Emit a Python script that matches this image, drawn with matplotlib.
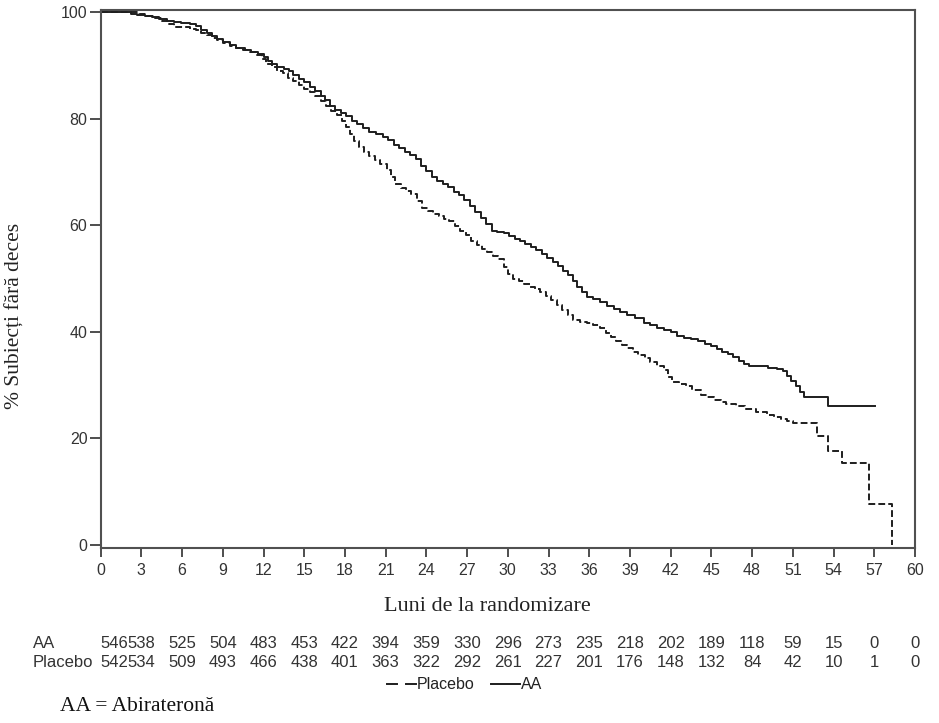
import matplotlib
matplotlib.use("Agg")
import matplotlib.pyplot as plt
from matplotlib.lines import Line2D
from matplotlib.transforms import blended_transform_factory

# curbe Kaplan-Meier (luni, % supravietuire)
aa_t = [0, 2.2, 2.7, 3.3, 3.8, 4.3, 4.9, 5.4, 5.9, 6.6, 7.0, 7.4, 7.8, 8.2, 8.6, 9.0,
        9.5, 10.0, 10.6, 11.1, 11.6, 12.0, 12.3, 12.6, 13.0, 13.5, 13.9, 14.2, 14.6,
        15.0, 15.4, 15.8, 16.2, 16.5, 16.9, 17.3, 17.7, 18.1, 18.5, 18.9, 19.3, 19.8,
        20.3, 20.8, 21.2, 21.6, 22.0, 22.4, 22.8, 23.2, 23.6, 24.0, 24.4, 24.8, 25.2,
        25.6, 26.0, 26.4, 26.8, 27.2, 27.6, 28.0, 28.4, 28.8, 29.2, 29.7, 30.1, 30.5,
        30.9, 31.3, 31.7, 32.1, 32.5, 32.9, 33.3, 33.7, 34.1, 34.4, 34.8, 35.1, 35.5,
        35.8, 36.3, 36.8, 37.3, 37.8, 38.3, 38.8, 39.4, 40.0, 40.5, 41.0, 41.5, 42.0,
        42.5, 43.0, 43.5, 44.0, 44.5, 45.0, 45.4, 45.8, 46.2, 46.6, 47.0, 47.4, 47.8,
        48.5, 49.2, 49.8, 50.3, 50.6, 50.9, 51.2, 51.5, 51.8, 53.6, 57.06]
aa_s = [100, 99.7, 99.5, 99.3, 99.0, 98.7, 98.4, 98.2, 98.0, 97.8, 97.3, 96.6, 96.0, 95.4, 94.9, 94.3,
        93.8, 93.3, 92.9, 92.5, 92.1, 91.5, 90.8, 90.3, 89.7, 89.3, 89.0, 88.2, 87.4,
        86.8, 86.0, 85.2, 84.3, 83.4, 82.4, 81.7, 81.0, 80.4, 79.6, 78.9, 78.2, 77.5,
        77.1, 76.6, 75.9, 75.1, 74.5, 73.8, 73.2, 72.4, 71.2, 70.2, 69.1, 68.3, 67.8,
        67.2, 66.3, 65.6, 64.8, 63.6, 62.4, 61.4, 60.2, 59.0, 58.7, 58.5, 58.0, 57.5,
        57.0, 56.5, 55.9, 55.3, 54.6, 53.9, 53.1, 52.3, 51.5, 50.7, 49.6, 48.4, 47.4,
        46.6, 46.1, 45.6, 44.9, 44.3, 43.7, 43.2, 42.5, 41.7, 41.2, 40.8, 40.3, 39.9,
        39.3, 38.9, 38.6, 38.2, 37.8, 37.3, 36.8, 36.3, 35.8, 35.2, 34.6, 33.9, 33.6,
        33.5, 33.3, 33.0, 32.7, 31.8, 30.8, 29.8, 28.8, 27.8, 26.1, 26.1]

pl_t = [0, 2.8, 3.4, 4.0, 4.5, 5.0, 5.4, 6.6, 7.0, 7.4, 7.8, 8.2, 8.6, 9.0, 9.5, 10.0,
        10.5, 11.0, 11.5, 11.9, 12.2, 12.6, 13.0, 13.4, 13.8, 14.2, 14.6, 15.0, 15.4,
        15.8, 16.2, 16.6, 17.0, 17.4, 17.8, 18.1, 18.4, 18.7, 19.0, 19.4, 19.8, 20.2,
        20.6, 21.1, 21.4, 21.7, 22.1, 22.5, 22.9, 23.3, 23.7, 24.1, 24.5, 24.9, 25.3,
        25.7, 26.1, 26.5, 26.9, 27.3, 27.7, 28.1, 28.5, 28.9, 29.3, 29.7, 30.0, 30.4,
        30.8, 31.2, 31.6, 32.0, 32.4, 32.8, 33.2, 33.6, 34.0, 34.4, 34.8, 35.3, 35.8,
        36.3, 36.8, 37.2, 37.6, 38.0, 38.4, 38.8, 39.2, 39.6, 40.1, 40.5, 41.0, 41.5,
        41.8, 42.1, 42.6, 43.1, 43.6, 44.2, 44.7, 45.2, 45.7, 46.1, 46.8, 47.5, 48.3,
        49.1, 49.6, 50.1, 50.6, 51.0, 52.8, 53.6, 54.6, 56.6, 58.3]
pl_s = [100, 99.6, 99.2, 98.8, 98.4, 97.8, 97.1, 96.9, 96.6, 96.1, 95.6, 95.2, 94.8, 94.2, 93.6, 93.2,
        92.8, 92.4, 91.9, 91.2, 90.3, 89.6, 89.0, 88.5, 87.7, 87.0, 86.3, 85.6, 84.9,
        84.2, 83.3, 82.4, 81.5, 80.6, 79.6, 78.5, 77.2, 75.8, 74.6, 73.8, 73.0, 72.2,
        71.4, 70.4, 69.0, 67.8, 67.0, 66.4, 65.8, 64.6, 63.2, 62.6, 62.1, 61.7, 61.2,
        60.7, 59.9, 59.0, 58.1, 57.1, 56.3, 55.6, 55.0, 54.3, 53.6, 52.2, 50.8, 50.0,
        49.5, 49.0, 48.5, 48.0, 47.4, 46.7, 46.0, 45.0, 44.0, 43.1, 42.2, 41.9, 41.6,
        41.2, 40.7, 39.8, 39.0, 38.2, 37.5, 36.9, 36.3, 35.7, 35.0, 34.4, 33.6, 32.8,
        31.6, 30.6, 30.2, 29.8, 29.0, 28.1, 27.7, 27.3, 26.9, 26.5, 26.0, 25.6, 25.0,
        24.4, 24.0, 23.6, 23.2, 22.9, 20.5, 17.7, 15.3, 7.7, 0]

# numar de subiecti la risc
risc_luni = list(range(0, 61, 3))
risc_aa = [546, 538, 525, 504, 483, 453, 422, 394, 359, 330, 296, 273, 235, 218, 202, 189, 118, 59, 15, 0, 0]
risc_pl = [542, 534, 509, 493, 466, 438, 401, 363, 322, 292, 261, 227, 201, 176, 148, 132, 84, 42, 10, 1, 0]

serif = ["Liberation Serif", "DejaVu Serif"]
sans = ["Liberation Sans", "DejaVu Sans"]
ink = "#1e1e1e"

fig = plt.figure(figsize=(9.39, 7.23), dpi=100)
ax = fig.add_axes([0.1072, 0.2420, 0.8672, 0.7435])

ax.step(pl_t, pl_s, where="post", color=ink, lw=1.4, dashes=(3.5, 1.6))
ax.step(aa_t, aa_s, where="post", color=ink, lw=1.4)

ax.set_xlim(0, 60)
ax.set_ylim(-0.56, 100.28)
ax.set_xticks(range(0, 61, 3))
ax.set_yticks(range(0, 101, 20))
for s in ax.spines.values():
    s.set_color("#505050")
    s.set_linewidth(1.5)
ax.tick_params(axis="x", length=6.5, width=1.3, color="#404040", pad=4,
               labelsize=11.5, labelcolor="#333333")
ax.tick_params(axis="y", length=8, width=1.3, color="#404040", pad=1.5,
               labelsize=11.5, labelcolor="#333333")
for lab in ax.get_xticklabels() + ax.get_yticklabels():
    lab.set_family(sans)

fig.text(0.016, 0.563, "% Subiecți fără deces", rotation=90, ha="center", va="center",
         family=serif, fontsize=15.5, color="#222222")
fig.text(0.519, 0.1618, "Luni de la randomizare", ha="center", va="center",
         family=serif, fontsize=16, color="#222222")

# tabel la risc
tr = blended_transform_factory(ax.transData, fig.transFigure)
for y, lab, vals in [(0.1102, "AA", risc_aa), (0.0840, "Placebo", risc_pl)]:
    fig.text(0.0352, y, lab, ha="left", va="center", family=sans, fontsize=12, color="#333333")
    for m, v in zip(risc_luni, vals):
        ax.text(m, y, str(v), transform=tr, ha="left" if m == 0 else "center", va="center",
                family=sans, fontsize=12, color="#333333")

# legenda
ly = 0.0545
fig.add_artist(Line2D([386.7 / 939, 396.7 / 939], [ly, ly], color=ink, lw=1.4))
fig.add_artist(Line2D([406 / 939, 416 / 939], [ly, ly], color=ink, lw=1.4))
fig.text(417 / 939, 0.0526, "Placebo", ha="left", va="center", family=sans, fontsize=11.5, color="#222222")
fig.add_artist(Line2D([490.7 / 939, 520 / 939], [ly, ly], color=ink, lw=1.4))
fig.text(520.7 / 939, 0.0526, "AA", ha="left", va="center", family=sans, fontsize=11.5, color="#222222")

fig.text(0.0639, 0.0226, "AA = Abirateronă", ha="left", va="center",
         family=serif, fontsize=15.5, color="#111111")

fig.savefig("out.png", dpi=100)
